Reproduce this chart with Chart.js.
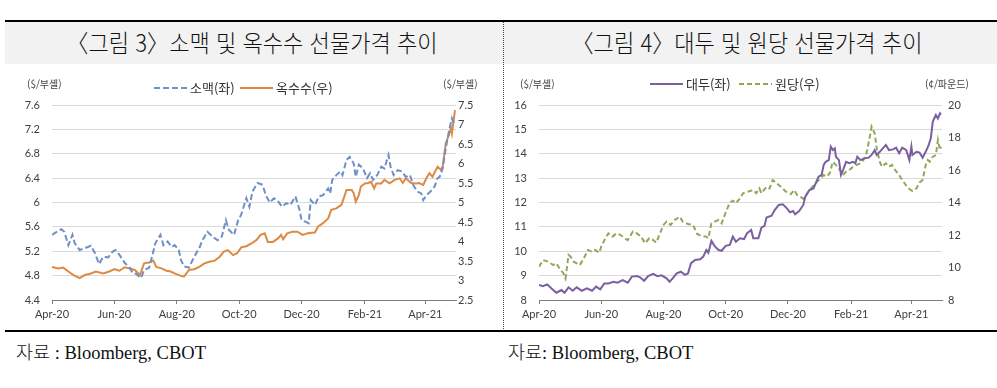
<!DOCTYPE html>
<html lang="ko">
<head>
<meta charset="utf-8">
<script src="https://cdn.jsdelivr.net/npm/chart.js@4.4.1/dist/chart.umd.min.js"></script>
<style>
  body { margin: 0; background: #fff; width: 997px; height: 388px; position: relative; overflow: hidden; font-family: "Noto Sans CJK KR", sans-serif; }
  .topline { position: absolute; left: 5px; top: 20px; width: 992px; height: 2px; background: #000; }
  .band { position: absolute; left: 5px; top: 22px; width: 992px; height: 42px; background: #f2f2f2; }
  .title { position: absolute; top: 21px; height: 42px; line-height: 42px; font-size: 24px; font-weight: 300; color: #111; white-space: nowrap; transform: scaleX(0.92); transform-origin: center; text-align: center; width: 498px; }
  .divider { position: absolute; left: 503px; top: 22px; height: 309px; border-left: 1px dotted #444; }
  .bottomline { position: absolute; left: 5px; top: 330px; width: 992px; height: 2px; background: #000; }
  .src { position: absolute; top: 338px; font-family: "Liberation Serif", "Noto Sans CJK KR", serif; font-size: 18.5px; color: #111; white-space: nowrap; }
  .src span { font-family: "Noto Sans CJK KR", sans-serif; font-weight: 300; }
  canvas { position: absolute; top: 64px; }
</style>
</head>
<body>
<div class="topline"></div>
<div class="band"></div>
<div class="title" style="left:3px">〈그림 3〉소맥 및 옥수수 선물가격 추이</div>
<div class="title" style="left:498px">〈그림 4〉대두 및 원당 선물가격 추이</div>
<div class="divider"></div>
<canvas id="left" width="500" height="267" style="left:0"></canvas>
<canvas id="right" width="494" height="267" style="left:503px"></canvas>
<div class="bottomline"></div>
<div class="src" style="left:16px"><span>자료</span> : Bloomberg, CBOT</div>
<div class="src" style="left:508px"><span>자료</span>: Bloomberg, CBOT</div>
<script>
// x축: 2020-04-01부터 경과 일수
const tickDays = [0, 61, 122, 183, 244, 306, 365];
const tickLabels = ['Apr-20', 'Jun-20', 'Aug-20', 'Oct-20', 'Dec-20', 'Feb-21', 'Apr-21'];

// 소맥 ($/부셸, 좌축)
const wheatDays = [0,3,9,12,16,20,22,27,32,38,42,46,50,55,59,62,66,71,76,79,82,87,90,95,99,101,106,109,113,117,120,124,126,129,134,139,144,147,152,157,162,166,170,173,178,182,185,190,193,196,201,206,209,213,217,221,225,229,233,238,242,244,247,251,253,257,261,265,270,272,274,278,282,284,288,291,295,297,300,304,308,311,314,318,322,325,329,331,334,338,342,346,350,353,357,361,363,366,370,374,377,379,382,385,388,391,392,394];
const wheatPrice = [5.47,5.50,5.56,5.52,5.30,5.47,5.34,5.22,5.25,5.29,5.17,4.99,5.11,5.10,5.19,5.22,5.14,5.01,4.93,4.84,4.83,4.76,4.89,4.93,5.19,5.33,5.47,5.30,5.36,5.27,5.30,5.22,5.06,4.95,4.93,5.11,5.25,5.38,5.52,5.44,5.38,5.44,5.71,5.55,5.47,5.71,5.80,6.07,5.93,6.18,6.32,6.29,6.12,6.00,6.07,6.02,5.93,5.99,5.96,6.10,5.88,5.71,5.69,5.66,6.04,5.96,6.10,6.12,6.23,6.15,6.37,6.45,6.51,6.45,6.70,6.75,6.64,6.42,6.62,6.56,6.40,6.48,6.37,6.45,6.59,6.56,6.78,6.59,6.45,6.53,6.51,6.42,6.45,6.29,6.18,6.15,6.04,6.12,6.18,6.26,6.40,6.42,6.56,6.89,7.16,7.38,7.33,7.28];

// 옥수수 ($/부셸, 우축)
const cornDays = [0,6,11,16,21,27,32,38,43,50,56,61,66,71,76,81,86,90,95,99,102,107,112,116,121,126,129,134,139,144,149,154,159,164,168,172,177,181,185,190,195,200,204,208,211,216,221,224,226,230,235,240,245,250,257,260,265,270,273,278,283,288,293,295,297,300,302,306,309,312,315,317,322,325,330,335,340,343,346,351,356,359,363,366,369,372,377,380,382,385,388,390,391,393,394];
const cornPrice = [3.35,3.31,3.33,3.23,3.14,3.06,3.14,3.18,3.23,3.18,3.23,3.29,3.25,3.34,3.31,3.27,3.14,3.44,3.46,3.51,3.35,3.31,3.25,3.23,3.17,3.12,3.10,3.27,3.29,3.35,3.44,3.48,3.51,3.61,3.74,3.78,3.65,3.70,3.85,3.88,3.95,4.04,4.17,4.21,3.99,3.99,4.08,4.17,4.06,4.21,4.25,4.25,4.17,4.21,4.23,4.38,4.47,4.59,4.81,4.85,4.94,5.32,5.32,5.24,5.02,5.19,5.41,5.49,5.50,5.53,5.36,5.49,5.49,5.58,5.49,5.58,5.62,5.50,5.62,5.50,5.49,5.50,5.45,5.62,5.75,5.66,5.92,5.84,5.92,6.52,6.73,6.90,6.77,7.16,7.37];

// 대두 ($/부셸, 좌축)
const soyDays = [0,4,8,12,17,22,25,29,33,37,42,47,52,56,60,64,68,73,77,82,87,91,96,99,103,107,112,116,120,125,128,131,135,139,143,146,149,153,158,161,164,166,169,172,176,179,183,187,190,193,197,201,204,208,210,215,218,221,223,228,231,235,239,243,246,249,251,255,259,261,265,269,274,277,279,281,284,286,288,290,291,294,296,298,301,304,308,310,312,315,319,323,326,329,331,334,337,340,343,347,350,353,356,360,363,365,366,370,373,376,379,382,384,386,389,391,393,394];
const soyPrice = [8.62,8.57,8.64,8.48,8.30,8.41,8.30,8.52,8.38,8.52,8.38,8.48,8.38,8.55,8.44,8.68,8.68,8.75,8.71,8.82,8.71,8.96,8.98,8.93,8.79,8.98,9.07,8.98,9.01,8.89,8.75,8.89,9.09,9.16,9.03,9.09,9.51,9.64,9.67,9.78,10.05,9.94,10.43,10.22,10.05,10.02,10.22,10.26,10.60,10.39,10.53,10.50,10.74,10.87,10.53,10.53,10.97,11.04,11.38,11.46,11.69,11.90,11.93,11.76,11.60,11.65,11.52,11.65,11.90,12.24,12.51,12.58,13.06,13.13,13.54,13.67,13.74,14.29,14.15,14.22,13.88,13.74,13.13,13.33,13.67,13.61,13.67,13.61,13.88,13.74,13.81,13.84,13.95,14.15,13.95,14.08,14.22,14.36,14.15,14.18,14.25,14.02,14.25,14.15,13.74,14.29,13.95,14.08,14.05,13.84,14.08,14.36,14.63,15.32,15.59,15.45,15.66,15.60];

// 원당 (¢/파운드, 우축)
const sugarDays = [0,4,9,14,17,21,24,26,29,31,34,37,40,44,48,52,55,59,61,65,68,72,76,80,84,87,92,96,100,104,108,112,115,118,122,125,129,133,138,141,146,151,155,159,164,166,169,172,176,179,184,187,190,193,197,200,205,210,213,216,218,223,226,229,233,237,242,247,250,253,256,259,262,265,268,272,276,279,282,285,288,291,295,298,301,304,308,311,315,318,321,324,326,329,331,334,336,340,343,346,349,353,356,360,363,366,370,373,376,379,381,383,386,389,391,393,394];
const sugarPrice = [10.05,10.46,10.36,10.15,10.26,9.85,9.64,9.33,10.77,10.67,10.36,10.26,10.15,10.57,11.08,10.97,11.08,10.91,11.28,11.80,12.10,11.90,12.10,12.00,11.80,11.69,12.21,12.10,11.90,11.49,11.80,11.69,11.53,12.00,12.62,12.82,12.62,12.92,13.13,12.82,12.68,12.62,12.06,11.94,11.90,11.80,12.72,12.82,12.92,12.72,13.54,13.99,14.11,13.95,14.26,14.57,14.67,14.77,14.57,14.87,14.57,14.97,14.87,15.38,15.18,14.97,14.67,14.52,14.77,14.46,14.36,14.22,14.46,14.77,14.97,15.24,15.49,15.69,15.59,15.80,16.51,16.31,16.00,15.69,15.90,16.00,16.20,16.31,16.41,16.62,17.03,17.95,18.67,18.26,17.33,16.51,16.20,16.41,16.20,16.31,16.00,15.69,15.38,15.04,14.83,14.71,14.87,15.24,15.38,16.31,16.62,16.51,16.82,16.92,17.85,17.23,17.44];

// 축 눈금
const wheatTicks = [4.4, 4.8, 5.2, 5.6, 6, 6.4, 6.8, 7.2, 7.6];
const cornTicks = [2.5, 3, 3.5, 4, 4.5, 5, 5.5, 6, 6.5, 7, 7.5];
const soyTicks = [8, 9, 10, 11, 12, 13, 14, 15, 16];
const sugarTicks = [8, 10, 12, 14, 16, 18, 20];

const tickFont = { family: 'Lato', size: 11 };
const tickColor = '#404040';

function toPoints(days, values) {
  return days.map((d, i) => ({ x: d, y: values[i] }));
}

// 범례와 단위 표시
const notesPlugin = {
  id: 'notes',
  afterDraw(chart, args, opts) {
    const ctx = chart.ctx;
    ctx.save();
    ctx.textBaseline = 'middle';
    ctx.fillStyle = '#404040';
    ctx.font = '10px "Noto Sans CJK KR"';
    opts.units.forEach(u => ctx.fillText(u.text, u.x, u.y));
    ctx.font = '13px "Noto Sans CJK KR"';
    chart.data.datasets.forEach((ds, i) => {
      const item = opts.legend[i];
      ctx.strokeStyle = ds.borderColor;
      ctx.lineWidth = 2;
      ctx.setLineDash(ds.borderDash || []);
      ctx.beginPath();
      ctx.moveTo(item.x, item.y);
      ctx.lineTo(item.x + 33, item.y);
      ctx.stroke();
      ctx.setLineDash([]);
      ctx.fillStyle = '#333';
      ctx.fillText(ds.label, item.x + 36, item.y);
    });
    ctx.restore();
  }
};

function xAxis() {
  return {
    type: 'linear', min: 0, max: 395,
    afterBuildTicks: s => { s.ticks = tickDays.map(v => ({ value: v })); },
    ticks: {
      callback: v => tickLabels[tickDays.indexOf(v)],
      autoSkip: false, maxRotation: 0, padding: 4,
      color: tickColor, font: tickFont
    },
    grid: { drawOnChartArea: false, drawTicks: true, tickLength: 4, color: '#7f7f7f' },
    border: { color: '#7f7f7f', width: 1 },
    afterFit: s => { s.height = 31; }
  };
}

function yAxis(pos, min, max, ticks, width, pad, grid) {
  return {
    type: 'linear', position: pos, min: min, max: max,
    afterBuildTicks: s => { s.ticks = ticks.map(v => ({ value: v })); },
    ticks: { callback: v => String(v), padding: pad, color: tickColor, font: tickFont },
    grid: grid ? { color: '#d9d9d9', lineWidth: 1, drawTicks: false } : { drawOnChartArea: false, drawTicks: false },
    border: { display: false },
    afterFit: s => { s.width = width; }
  };
}

function lineSet(label, points, color, dash, axis) {
  return {
    label: label, data: points, yAxisID: axis,
    borderColor: color, borderWidth: 2, borderDash: dash,
    pointRadius: 0, tension: 0, fill: false
  };
}

new Chart(document.getElementById('left'), {
  type: 'line',
  data: {
    datasets: [
      lineSet('소맥(좌)', toPoints(wheatDays, wheatPrice), '#6f8fc6', [6, 3], 'y'),
      lineSet('옥수수(우)', toPoints(cornDays, cornPrice), '#dd8a45', [], 'y2')
    ]
  },
  options: {
    responsive: false, animation: false,
    layout: { padding: { top: 41, left: 0, right: 0, bottom: 0 } },
    scales: {
      x: xAxis(),
      y: yAxis('left', 4.4, 7.6, wheatTicks, 52, 12, true),
      y2: yAxis('right', 2.5, 7.5, cornTicks, 44, 2, false)
    },
    plugins: {
      legend: { display: false },
      tooltip: { enabled: false },
      notes: {
        units: [{ text: '($/부셸)', x: 27, y: 20 }, { text: '($/부셸)', x: 443, y: 20 }],
        legend: [{ x: 154, y: 24 }, { x: 240, y: 24 }]
      }
    }
  },
  plugins: [notesPlugin]
});

new Chart(document.getElementById('right'), {
  type: 'line',
  data: {
    datasets: [
      lineSet('대두(좌)', toPoints(soyDays, soyPrice), '#7a5fa3', [], 'y'),
      lineSet('원당(우)', toPoints(sugarDays, sugarPrice), '#8fa95c', [5, 3], 'y2')
    ]
  },
  options: {
    responsive: false, animation: false,
    layout: { padding: { top: 41, left: 0, right: 0, bottom: 0 } },
    scales: {
      x: xAxis(),
      y: yAxis('left', 8, 16, soyTicks, 36, 12, true),
      y2: yAxis('right', 8, 20, sugarTicks, 55, 6, false)
    },
    plugins: {
      legend: { display: false },
      tooltip: { enabled: false },
      notes: {
        units: [{ text: '($/부셸)', x: 17, y: 20 }, { text: '(¢/파운드)', x: 422, y: 20 }],
        legend: [{ x: 147, y: 20 }, { x: 236, y: 20 }]
      }
    }
  },
  plugins: [notesPlugin]
});
</script>
</body>
</html>
